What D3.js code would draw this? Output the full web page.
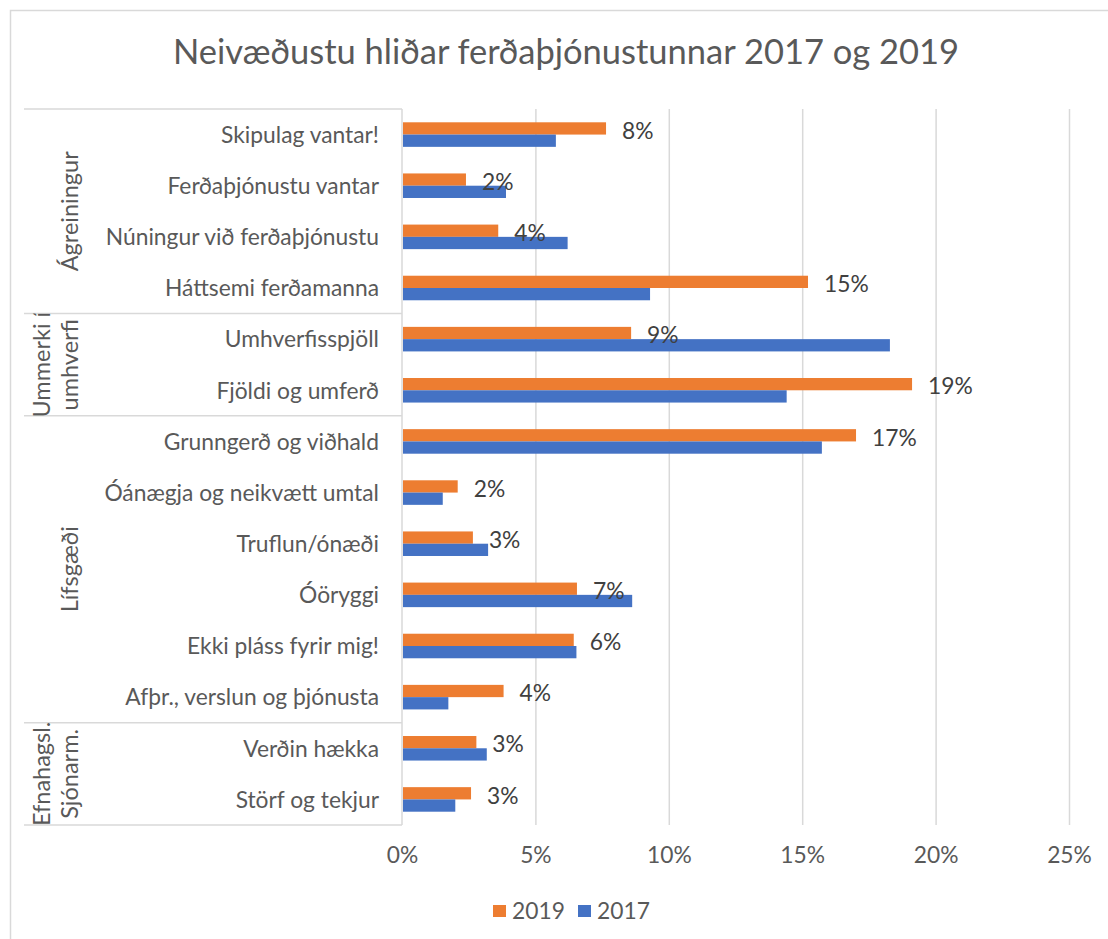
<!DOCTYPE html>
<html lang="is">
<head>
<meta charset="UTF-8">
<title>Neivæðustu hliðar ferðaþjónustunnar 2017 og 2019</title>
<script src="https://cdn.jsdelivr.net/npm/d3@7"></script>
<style>
    html, body {
        margin: 0;
        padding: 0;
        background: #fff;
    }
    text {
        font-family: 'Lato', sans-serif;
        fill: #595959;
    }
</style>
</head>
<body>
<div id="chart"></div>
<script>

// categories, top to bottom
var categories = [
    "Skipulag vantar!", "Ferðaþjónustu vantar", "Núningur við ferðaþjónustu", "Háttsemi ferðamanna",
    "Umhverfisspjöll", "Fjöldi og umferð",
    "Grunngerð og viðhald", "Óánægja og neikvætt umtal", "Truflun/ónæði", "Óöryggi",
    "Ekki pláss fyrir mig!", "Afþr., verslun og þjónusta",
    "Verðin hækka", "Störf og tekjur"
];

// group labels (lines) and how many categories each one spans
var groupNames = [["Ágreiningur"], ["Ummerki í", "umhverfi"], ["Lífsgæði"], ["Efnahagsl.", "Sjónarm."]];
var groupSizes = [4, 2, 6, 2];

// values in percent
var values2019 = [7.61, 2.36, 3.57, 15.18, 8.55, 19.08, 16.98, 2.05, 2.62, 6.52, 6.40, 3.77, 2.75, 2.55];
var values2017 = [5.73, 3.86, 6.17, 9.26, 18.25, 14.38, 15.70, 1.49, 3.19, 8.59, 6.50, 1.70, 3.14, 1.96];

var seriesNames = ["2019", "2017"];
var seriesColors = ["#ED7D31", "#4472C4"];
var xTicks = [0, 5, 10, 15, 20, 25];

var W = 1108, H = 939;
var margin = {top: 109, right: 39, bottom: 114, left: 402};
var width = W - margin.left - margin.right,
    height = H - margin.top - margin.bottom;
var fs = '22.8px';

var svg = d3.select('#chart')
    .append('svg')
    .attr('width', W)
    .attr('height', H);

// outer chart border
svg.append('rect')
    .attr('x', 10.5)
    .attr('y', 10.5)
    .attr('width', W + 20)
    .attr('height', H + 20)
    .attr('fill', 'none')
    .attr('stroke', '#D9D9D9')
    .attr('stroke-width', 1.5);

svg.append('text')
    .attr('x', 566)
    .attr('y', 52)
    .attr('dy', '0.36em')
    .attr('text-anchor', 'middle')
    .style('font-size', '34.5px')
    .text("Neivæðustu hliðar ferðaþjónustunnar 2017 og 2019");

var g = svg.append('g')
    .attr('transform', 'translate(' + margin.left + ',' + margin.top + ')');

var x = d3.scaleLinear()
    .domain([0, 25])
    .range([0, width]);

var y = d3.scaleBand()
    .domain(categories)
    .range([0, height])
    .paddingInner(0.52)
    .paddingOuter(0.26);

var ySub = d3.scaleBand()
    .domain(seriesNames)
    .range([0, y.bandwidth()]);

// gridlines + tick labels
var xAxis = d3.axisBottom(x)
    .tickValues(xTicks)
    .tickSize(height)
    .tickPadding(22)
    .tickFormat(function(d) { return d + '%'; });

var gx = g.append('g')
    .attr('class', 'x axis')
    .call(xAxis);
gx.select('.domain').remove();
gx.selectAll('.tick line')
    .attr('stroke', '#D9D9D9')
    .attr('stroke-width', 1.5)
    .filter(function(d) { return d === 0; }).remove();
gx.selectAll('.tick text')
    .attr('fill', '#595959')
    .style('font-size', fs);

// category labels
var yAxis = d3.axisLeft(y)
    .tickSize(0)
    .tickPadding(23);
var gy = g.append('g')
    .attr('class', 'y axis')
    .call(yAxis);
gy.select('.domain').remove();
gy.selectAll('.tick text')
    .attr('fill', '#595959')
    .attr('dy', '0.36em')
    .style('font-size', fs);

// category axis line + group separators
g.append('line')
    .attr('x1', 0).attr('x2', 0)
    .attr('y1', 0).attr('y2', height)
    .attr('stroke', '#D9D9D9')
    .attr('stroke-width', 1.5);

var groupStart = [0];
groupSizes.forEach(function(n, i) { groupStart.push(groupStart[i] + n); });

g.selectAll('.sep')
    .data(groupStart)
    .enter()
    .append('line')
    .attr('class', 'sep')
    .attr('x1', 24 - margin.left).attr('x2', 0)
    .attr('y1', function(d) { return y.range()[0] + d * y.step(); })
    .attr('y2', function(d) { return y.range()[0] + d * y.step(); })
    .attr('stroke', '#D9D9D9')
    .attr('stroke-width', 1.5);

// group labels, rotated and clipped to their block
var defs = svg.append('defs');
groupNames.forEach(function(lines, i) {
    var y0 = groupStart[i] * y.step(),
        y1 = groupStart[i + 1] * y.step();
    defs.append('clipPath')
        .attr('id', 'clip' + i)
        .append('rect')
        .attr('x', 24 - margin.left)
        .attr('y', y0)
        .attr('width', 80)
        .attr('height', y1 - y0);
    var gg = g.append('g').attr('clip-path', 'url(#clip' + i + ')');
    lines.forEach(function(line, j) {
        var cx = 70 - margin.left - (lines.length - 1 - j) * 28;
        gg.append('text')
            .attr('transform', 'translate(' + cx + ',' + ((y0 + y1) / 2) + ') rotate(-90)')
            .attr('dy', '0.36em')
            .attr('text-anchor', 'middle')
            .style('font-size', '23.5px')
            .text(line);
    });
});

// bars
var rows = categories.map(function(c, i) {
    return {cat: c, vals: [values2019[i], values2017[i]]};
});

var rowG = g.selectAll('.row')
    .data(rows)
    .enter()
    .append('g')
    .attr('class', 'row')
    .attr('transform', function(d) { return 'translate(0,' + y(d.cat) + ')'; });

rowG.selectAll('rect')
    .data(function(d) { return d.vals.map(function(v, k) { return {s: seriesNames[k], v: v, c: seriesColors[k]}; }); })
    .enter()
    .append('rect')
    .attr('x', x(0) + 1)
    .attr('y', function(d) { return ySub(d.s); })
    .attr('width', function(d) { return x(d.v) - x(0); })
    .attr('height', ySub.bandwidth())
    .attr('fill', function(d) { return d.c; });

// data labels on 2019
rowG.append('text')
    .attr('x', function(d) { return x(d.vals[0]) + 17; })
    .attr('y', function(d) { return ySub('2019') + ySub.bandwidth() / 2 + 2; })
    .attr('dy', '0.36em')
    .style('font-size', fs)
    .style('fill', '#404040')
    .text(function(d) { return Math.round(d.vals[0]) + '%'; });

// legend
var legend = svg.append('g')
    .attr('transform', 'translate(493,911)');
var item = legend.selectAll('.item')
    .data(seriesNames)
    .enter()
    .append('g')
    .attr('class', 'item')
    .attr('transform', function(d, i) { return 'translate(' + (i * 85) + ',0)'; });
item.append('rect')
    .attr('x', 0)
    .attr('y', -6)
    .attr('width', 13)
    .attr('height', 12)
    .attr('fill', function(d, i) { return seriesColors[i]; });
item.append('text')
    .attr('x', 19)
    .attr('dy', '0.36em')
    .style('font-size', fs)
    .text(function(d) { return d; });

</script>
</body>
</html>
